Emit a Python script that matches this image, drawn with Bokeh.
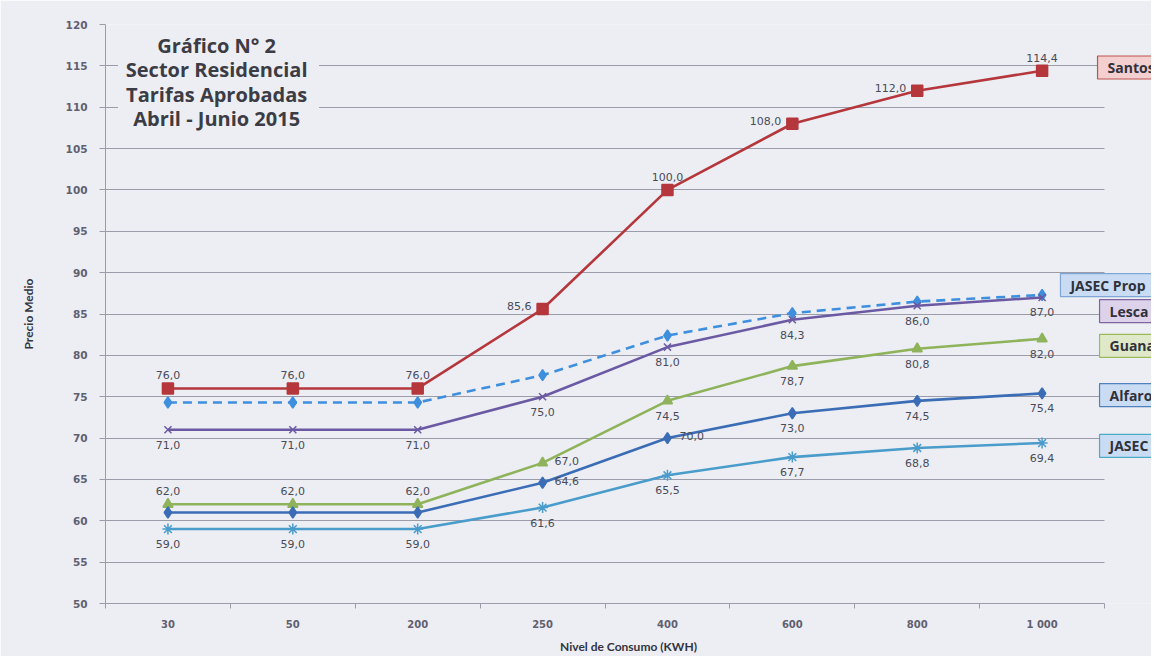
from bokeh.plotting import figure
from bokeh.models import Range1d, FixedTicker, Label, BoxAnnotation, ColumnDataSource
from bokeh.embed import file_html
from bokeh.resources import INLINE
from bokeh.core.properties import value

# ---------------- data ----------------
categories = ["30", "50", "200", "250", "400", "600", "800", "1 000"]
santos = [76.0, 76.0, 76.0, 85.6, 100.0, 108.0, 112.0, 114.4]
jasec_prop = [74.3, 74.3, 74.3, 77.6, 82.4, 85.1, 86.5, 87.3]
lesca = [71.0, 71.0, 71.0, 75.0, 81.0, 84.3, 86.0, 87.0]
guanacaste = [62.0, 62.0, 62.0, 67.0, 74.5, 78.7, 80.8, 82.0]
alfaro = [61.0, 61.0, 61.0, 64.6, 70.0, 73.0, 74.5, 75.4]
jasec = [59.0, 59.0, 59.0, 61.6, 65.5, 67.7, 68.8, 69.4]
series_names = ["Santos", "JASEC Prop", "Lesca", "Guanacaste", "Alfaro", "JASEC"]
title_lines = ["Gráfico N° 2", "Sector Residencial", "Tarifas Aprobadas", "Abril - Junio 2015"]
y_title = "Precio Medio"
x_title = "Nivel de Consumo (KWH)"
y_ticks = list(range(50, 121, 5))

# ---------------- styles ----------------
BG = "#eceef4"
GRID = "#9a9caa"
TICK_TXT = "#5f6070"
LBL_TXT = "#4a4b58"

colors = ["#b5373c", "#3f8fdf", "#6b5aa3", "#8fb35b", "#3a6db5", "#4a9ccb"]
markers = ["square", "diamond", "x", "triangle", "diamond", "asterisk"]
msizes = [11, 11, 10, 10, 11, 11]
dashes = ["solid", "9 6", "solid", "solid", "solid", "solid"]
label_pos = [
    ["above", "above", "above", "left", "above", "left", "left", "above"],
    [None] * 8,
    ["below"] * 8,
    ["above", "above", "above", "right", "below", "below", "below", "below"],
    [None, None, None, "right", "right", "below", "below", "below"],
    ["below"] * 8,
]
pos_style = {
    "above": ("center", 0, -13),
    "below": ("center", 0, 15),
    "left": ("right", -11, -3),
    "right": ("left", 12, -2),
}
legend_style = [
    # box left x (data), y (data), fill, border
    (7.944, 114.8, "#f3cfcf", "#c0504d"),
    (7.647, 88.5, "#c9dcf3", "#7fa6d6"),
    (7.96, 85.35, "#dcd2ea", "#8064a2"),
    (7.96, 81.15, "#dfe9c9", "#9bbb59"),
    (7.96, 75.2, "#c9dcf3", "#4f81bd"),
    (7.96, 69.05, "#c9dcf3", "#4bacc6"),
]

all_series = [santos, jasec_prop, lesca, guanacaste, alfaro, jasec]
n = len(categories)
xs = [i + 0.5 for i in range(n)]

# frame spans to the right edge so the side labels can show; axis and grid stop at the last category
p = figure(width=1151, height=656, x_range=Range1d(0, 8.376), y_range=Range1d(50, 120),
           output_backend="svg", toolbar_location=None,
           min_border_left=105, min_border_right=0, min_border_top=24, min_border_bottom=52,
           background_fill_color=BG, border_fill_color=BG, outline_line_color=None)

# axes
p.xgrid.visible = False
p.ygrid.grid_line_color = GRID
p.ygrid.grid_line_width = 1
try:
    p.ygrid.cross_bounds = (0, n)
except Exception:
    pass
p.yaxis.ticker = FixedTicker(ticks=y_ticks)
p.yaxis.axis_line_color = GRID
p.yaxis.major_tick_line_color = GRID
p.yaxis.major_tick_out = 6
p.yaxis.major_tick_in = 0
p.yaxis.minor_tick_line_color = None
p.yaxis.major_label_standoff = 12
p.yaxis.major_label_text_font = "DejaVu Sans"
p.yaxis.major_label_text_font_style = "bold"
p.yaxis.major_label_text_font_size = "10.5px"
p.yaxis.major_label_text_color = TICK_TXT
p.yaxis.axis_label = y_title
p.yaxis.axis_label_standoff = 27
p.yaxis.axis_label_text_font = "Lato"
p.yaxis.axis_label_text_font_style = "bold"
p.yaxis.axis_label_text_font_size = "12px"
p.yaxis.axis_label_text_color = "#33343f"

p.xaxis.bounds = (0, n)
p.xaxis.ticker = FixedTicker(ticks=xs, minor_ticks=list(range(n + 1)))
p.xaxis.major_label_overrides = {x: c for x, c in zip(xs, categories)}
p.xaxis.axis_line_color = GRID
p.xaxis.major_tick_line_color = None
p.xaxis.major_tick_out = 0
p.xaxis.major_tick_in = 0
p.xaxis.minor_tick_line_color = GRID
p.xaxis.minor_tick_out = 5
p.xaxis.minor_tick_in = 0
p.xaxis.major_label_standoff = 10
p.xaxis.major_label_text_font = "DejaVu Sans"
p.xaxis.major_label_text_font_style = "bold"
p.xaxis.major_label_text_font_size = "10px"
p.xaxis.major_label_text_color = TICK_TXT
p.xaxis.axis_label = x_title
p.xaxis.axis_label_standoff = 6
p.xaxis.axis_label_text_font = "Lato"
p.xaxis.axis_label_text_font_style = "bold"
p.xaxis.axis_label_text_font_size = "12px"
p.xaxis.axis_label_text_color = "#33343f"

# series
for vals, col, mk, ms, dash in zip(all_series, colors, markers, msizes, dashes):
    src = ColumnDataSource(dict(x=xs, y=vals))
    p.line("x", "y", source=src, line_color=col, line_width=2.6, line_dash=dash)
    p.scatter("x", "y", source=src, marker=mk, size=ms, fill_color=col, line_color=col, line_width=1.5)

# data labels
lx, ly, lt, la, lxo, lyo = [], [], [], [], [], []
for vals, poss in zip(all_series, label_pos):
    for x, v, pos in zip(xs, vals, poss):
        if pos is None:
            continue
        al, xo, yo = pos_style[pos]
        lx.append(x); ly.append(v); lt.append(f"{v:.1f}".replace(".", ","))
        la.append(al); lxo.append(xo); lyo.append(yo)
lsrc = ColumnDataSource(dict(x=lx, y=ly, text=lt, align=la, xo=lxo, yo=lyo))
p.text("x", "y", text="text", source=lsrc, text_align="align", x_offset="xo", y_offset="yo",
       text_baseline="middle", text_font=value("DejaVu Sans"), text_font_size="11px",
       text_color=LBL_TXT)

# title box
p.add_layout(BoxAnnotation(left=0.1, right=1.71, bottom=106.4, top=119.0,
                           fill_color=BG, fill_alpha=1, line_color=None))
for i, t in enumerate(title_lines):
    p.add_layout(Label(x=0.89, y=117.5 - i * 2.97, text=t, text_align="center", text_baseline="middle",
                       text_font="Open Sans", text_font_style="bold", text_font_size="20px",
                       text_color="#3c3c44"))

# right-side series labels
for name, (x, y, fill, border) in zip(series_names, legend_style):
    p.add_layout(Label(x=x, y=y, text=name, text_align="left", text_baseline="middle",
                       text_font="Open Sans", text_font_style="bold", text_font_size="14px",
                       text_color="#30313a", background_fill_color=fill, background_fill_alpha=1,
                       border_line_color=border, border_line_width=1.2,
                       padding=dict(left=10, right=10, top=2, bottom=2)))

open("out.html", "w").write(file_html(p, INLINE))
